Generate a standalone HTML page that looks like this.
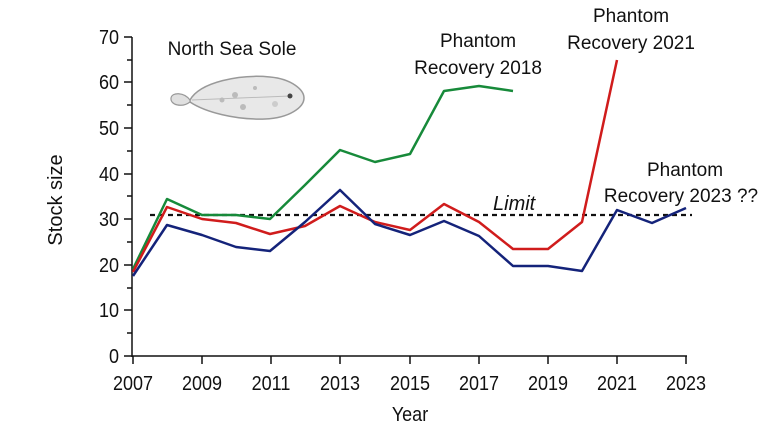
<!DOCTYPE html>
<html><head><meta charset="utf-8"><style>
html,body{margin:0;padding:0;background:#fff;}
svg{display:block;}
.t{font-family:"Liberation Sans",sans-serif;fill:#111;}
</style></head><body>
<svg width="768" height="432" viewBox="0 0 768 432" xmlns="http://www.w3.org/2000/svg">
<rect width="768" height="432" fill="#fff"/>
<g stroke="#111" stroke-width="1.5" fill="none">
<line x1="132" y1="37" x2="132" y2="357"/>
<line x1="132" y1="356" x2="687" y2="356"/>
<path d="M124 37H132M127 60H132M124 82H132M127 105H132M124 128H132M127 151H132M124 174H132M127 196H132M124 219H132M127 242H132M124 265H132M127 288H132M124 310H132M127 333H132M124 356H132"/>
<path d="M133 356V364M202 356V364M271 356V364M340 356V364M410 356V364M479 356V364M548 356V364M617 356V364M686 356V364"/>
</g>
<g class="t" font-size="20" text-anchor="end">
<text transform="translate(119,44) scale(0.9,1)">70</text><text transform="translate(119,89) scale(0.9,1)">60</text><text transform="translate(119,135) scale(0.9,1)">50</text><text transform="translate(119,181) scale(0.9,1)">40</text><text transform="translate(119,226) scale(0.9,1)">30</text><text transform="translate(119,272) scale(0.9,1)">20</text><text transform="translate(119,317) scale(0.9,1)">10</text><text transform="translate(119,363) scale(0.9,1)">0</text>
</g>
<g class="t" font-size="20" text-anchor="middle">
<text transform="translate(133,390) scale(0.9,1)">2007</text><text transform="translate(202,390) scale(0.9,1)">2009</text><text transform="translate(271,390) scale(0.9,1)">2011</text><text transform="translate(340,390) scale(0.9,1)">2013</text><text transform="translate(410,390) scale(0.9,1)">2015</text><text transform="translate(479,390) scale(0.9,1)">2017</text><text transform="translate(548,390) scale(0.9,1)">2019</text><text transform="translate(617,390) scale(0.9,1)">2021</text><text transform="translate(686,390) scale(0.9,1)">2023</text>
<text transform="translate(410,421) scale(0.9,1)">Year</text>
</g>
<text class="t" font-size="20" text-anchor="middle" transform="translate(62,200) rotate(-90)">Stock size</text>
<line x1="150" y1="215" x2="692" y2="215" stroke="#111" stroke-width="2.2" stroke-dasharray="5,4"/>
<text class="t" x="493" y="210" font-size="20" font-style="italic">Limit</text>
<g fill="none" stroke-width="2.5" stroke-linejoin="round">
<polyline stroke="#178a3a" points="133,269 167,199 202,215 236,215 270,219 305,185 340,150 375,162 410,154 444,91 479,86 513,91"/>
<polyline stroke="#d01c1c" points="133,272 167,207 202,219 236,223 270,234 305,226 340,206 375,222 410,230 444,204 479,222 513,249 548,249 582,222 617,60"/>
<polyline stroke="#14237a" points="133,276 167,225 202,235 236,247 270,251 305,222 340,190 375,224 410,235 444,221 479,236 513,266 548,266 582,271 617,210 652,223 686,208"/>
</g>
<g>
<path d="M190 100 C200 82,240 74,270 77 C292 79,304 90,304 98 C304 107,290 118,265 119 C235 120,205 112,190 102 Z" fill="#e8e8e8" stroke="#999" stroke-width="1.5"/>
<path d="M190 100 C184 92,172 92,171 98 C170 105,182 108,190 102 Z" fill="#e0e0e0" stroke="#999" stroke-width="1.2"/>
<line x1="192" y1="100" x2="290" y2="96" stroke="#bbb" stroke-width="1"/>
<circle cx="222" cy="100" r="2.5" fill="#bbb"/><circle cx="235" cy="95" r="3" fill="#bbb"/><circle cx="243" cy="107" r="3" fill="#bbb"/><circle cx="255" cy="88" r="2" fill="#bbb"/><circle cx="275" cy="104" r="3" fill="#ccc"/>
<circle cx="290" cy="96" r="2.5" fill="#444"/>
</g>
<g class="t" font-size="19" text-anchor="middle">
<text x="232" y="55">North Sea Sole</text>
<text x="478" y="47">Phantom</text><text x="478" y="74">Recovery 2018</text>
<text x="631" y="22">Phantom</text><text x="631" y="49">Recovery 2021</text>
<text x="685" y="176">Phantom</text><text x="681" y="202">Recovery 2023 ??</text>
</g>
</svg>
</body></html>
